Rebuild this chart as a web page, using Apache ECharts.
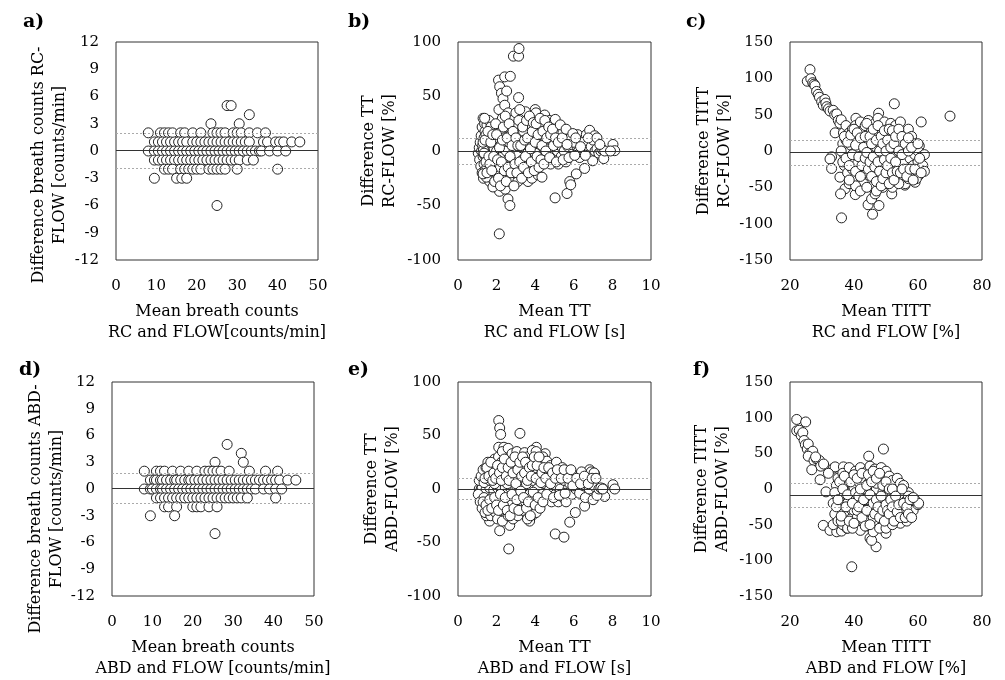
<!DOCTYPE html>
<html>
<head>
<meta charset="utf-8">
<script src="https://cdn.jsdelivr.net/npm/echarts@6/dist/echarts.min.js"></script>
<style>
  html, body { margin: 0; padding: 0; background: #fff; }
  #main { width: 1005px; height: 680px; }
</style>
</head>
<body>
<div id="main"></div>
<script>
// a) breath counts RC-FLOW [mean, diff]
var ptsA = [
  [27.5,5],[28.5,5],[33,4],[23.5,3],[30.5,3],
  [8,2],[11,2],[12,2],[13,2],[14,2],[16,2],[17,2],[19,2],[21,2],[24,2],[25,2],[26,2],[27,2],[29,2],[30,2],[31,2],[33,2],[35,2],[37,2],
  [9.5,1],[10.5,1],[11.5,1],[12.5,1],[13.5,1],[14.5,1],[15.5,1],[16.5,1],[17.5,1],[19,1],[20,1],[21,1],[22,1],[23,1],[24,1],[25,1],[26,1],[27,1],[28,1],[29,1],[30,1],[31,1],[32,1],[33,1],[36.5,1],[37.5,1],[39.5,1],[40.5,1],[41.5,1],[43.5,1],[45.5,1],
  [8,0],[9.5,0],[10.5,0],[11.5,0],[12.5,0],[13.5,0],[14.5,0],[15.5,0],[16.5,0],[17.5,0],[18.5,0],[19.5,0],[20.5,0],[21.5,0],[22.5,0],[23.5,0],[24.5,0],[25.5,0],[26.5,0],[27.5,0],[28.5,0],[29.5,0],[30.5,0],[31.5,0],[32.5,0],[33.5,0],[34.5,0],[35.5,0],[36,0],[38,0],[40,0],[42,0],
  [9.5,-1],[10.5,-1],[11.5,-1],[12.5,-1],[13.5,-1],[14.5,-1],[15.5,-1],[16.5,-1],[17.5,-1],[18.5,-1],[19.5,-1],[20.5,-1],[21.5,-1],[22.5,-1],[23.5,-1],[24.5,-1],[25.5,-1],[26.5,-1],[27.5,-1],[28.5,-1],[29.5,-1],[30.5,-1],[32.5,-1],[34,-1],
  [12,-2],[13,-2],[14,-2],[16,-2],[17,-2],[18,-2],[19,-2],[20,-2],[21,-2],[23,-2],[24,-2],[25,-2],[26,-2],[27,-2],[30,-2],[40,-2],
  [9.5,-3],[15,-3],[16.3,-3],[17.5,-3],[25,-6]
];

// b) TT RC-FLOW
var ptsB = [
  [1.05,-2],[1.1,3],[1.12,-8],[1.15,8],[1.18,-14],[1.2,14],[1.22,0],[1.25,-20],[1.25,22],[1.28,5],[1.3,-5],[1.3,30],[1.32,-25],[1.35,12],[1.35,-12],[1.38,25],[1.4,-18],[1.4,2],[1.4,18],
  [1.45,0],[1.5,-1],[1.5,1],[1.55,0],[1.55,-3],[1.6,2],[1.6,-1],[1.65,0],[1.65,3],[1.7,-2],[1.7,1],[1.75,0],[1.8,2],[1.8,-1],[1.85,0],[1.45,-6],[1.5,6],[1.55,10],[1.6,-10],[1.65,15],[1.7,-15],[1.75,8],[1.8,-8],[1.85,20],[1.9,-20],[1.5,24],[1.6,28],[1.7,22],[1.55,-22],[1.65,-28],[1.75,-25],[1.45,15],[1.9,12],[1.95,-5],[1.95,5],[1.5,-15],[1.85,-12],
  [1.42,2],[1.48,-2],[1.52,3],[1.58,-2],[1.62,0],[1.68,2],[1.72,-1],[1.78,1],[1.82,0],[1.38,0],[1.35,-3],[1.32,1],
  [2.0,-30],[2.05,-22],[2.0,0],[2.05,10],[2.1,25],[2.1,-12],[2.12,38],[2.1,65],[2.16,59],[2.25,53],[2.33,48],[2.42,42],[2.52,55],[2.42,68],[2.71,68.5],[2.15,-37],[2.2,-15],[2.2,5],[2.25,18],[2.3,30],[2.3,-5],[2.35,-25],[2.4,12],[2.45,-35],[2.5,0],[2.5,22],[2.55,-18],[2.6,35],[2.6,-8],[2.65,8],[2.59,-44],[2.69,-50],[2.7,-28],[2.75,15],[2.8,28],[2.8,-12],[2.14,-76],[2.87,87],[3.14,87],[3.16,94],[3.14,49],[1.81,-33],[1.47,-24],[1.3,-21],[1.38,30],
  [2.9,0],[2.9,-20],[2.95,20],[3.0,35],[3.0,-10],[3.05,8],[3.1,-28],[3.1,25],[3.15,-3],[3.2,15],[3.25,-18],[3.3,30],[3.3,3],[3.35,-8],[3.4,18],[3.45,-25],[3.5,36],[3.5,8],[3.55,-14],[3.6,25],[3.63,-28],[3.65,0],[3.7,12],[3.75,-20],[3.8,30],[3.83,-25],[3.85,5],[3.9,-8],[3.95,20],[4.0,38],[4.04,35],[4.05,-12],[4.1,10],[4.15,-22],[4.2,26],[4.25,0],[4.3,15],[4.35,-24],[4.4,-5],[4.45,22],[4.49,33],[4.5,8],[3.2,38],[3.6,-2],[4.0,-2],
  [4.6,-10],[4.65,18],[4.7,2],[4.75,28],[4.8,-12],[4.85,10],[4.9,-3],[5.0,22],[5.04,29],[5.05,-8],[5.1,12],[5.15,0],[5.2,-12],[5.25,18],[5.3,5],[5.35,-5],[5.44,17],[5.5,0],[5.55,10],[5.6,-10],[5.65,-39],[5.03,-43],[5.79,-28],[5.84,-31],[5.7,4],[5.8,14],[5.87,14],[5.9,-3],[6.0,8],[6.13,-21],
  [6.2,15],[6.25,0],[6.3,-6],[6.4,8],[6.5,2],[6.56,-16],[6.65,15],[6.7,5],[6.82,19],[6.9,4],[6.98,-9],[7.0,10],[7.08,14],[7.1,0],[7.2,2],[7.3,-2],[7.4,0],[7.5,1],[7.55,-7],[7.6,0],[8.03,6],[8.12,0.3],[7.9,0],
  [1.3,8],[1.35,-2],[1.4,10],[1.45,-10],[1.5,-20],[1.55,18],[1.6,-5],[1.65,-12],[1.7,8],[1.75,-18],[1.8,15],[1.85,-5],[1.9,-28],[1.95,25],[2.0,15],[2.05,-8],[2.1,-25],[2.15,3],[2.2,-32],[2.25,-10],[2.3,10],[2.35,22],[2.4,-18],[2.45,32],[2.5,-28],[2.55,12],[2.6,-15],[2.65,25],[2.7,-5],[2.75,-20],[2.8,5],[2.85,18],[2.9,-32],[2.95,-12],[3.0,12],[3.05,-20],[3.1,5],[3.15,28],[3.2,-10],[3.25,5],[3.3,-25],[3.35,22],[3.4,-15],[3.45,10],[3.5,-5],[3.55,28],[3.6,12],[3.65,-20],[3.7,32],[3.75,2],[3.8,-10],[3.85,18],[3.9,26],[3.95,-18],[4.0,8],[4.05,25],[4.1,-5],[4.15,15],[4.2,-15],[4.25,30],[4.3,-8],[4.35,5],[4.4,18],[4.45,-12],[4.5,28],[4.55,0],[4.6,12],[4.7,22],[4.75,-6],[4.8,15],[4.9,20],[4.95,5],[5.05,12],[5.1,-10],[5.2,8],[5.3,24],[5.4,12],[5.45,-8],[5.6,20],[5.65,6],[5.75,-6],[5.95,16],[6.05,-4],[6.1,12],[6.35,4],[6.6,-4],[6.75,12],[7.2,12],[7.35,6]
];

// c) TITT RC-FLOW
var ptsC = [
  [25.4,96],[26.25,112],[26.5,99.5],[27.1,94],[27.5,92],[27.8,90],[28.3,82],[28.8,78],[29.2,74],[29.9,68],[30.4,63],[30.9,71],[31.2,66],[31.5,61],[32,58],[32.5,55],[33.5,56],[34,50],[34.6,51],[35.1,42],[35.6,38],[36,43],[34.1,25],[36.7,25],[37.5,35],
  [33,-8],[32.5,-11],[33,-24],[35.6,-36],[37.2,-52],[35.8,-59],[38.5,-45],[40.4,-60],[36.1,-92],[45.8,-87],[44.4,-74],[47.8,-75],[45.5,-66],[46.6,-59],[49.2,-34],[51.8,-59],[55.9,-47],[59.1,-43],[60.1,-34],[61.7,-27],[60.4,7],[58.5,-6],[52.6,65],[47.7,52],[40.6,45],[61,40],[70,48],
  [36.5,10],[37,-5],[37,-20],[37.5,15],[38,0],[38,-30],[38.5,25],[39,-12],[39,8],[39.5,30],[39.5,-25],[40,18],[40,-3],[40,-38],
  [40.5,35],[41,5],[41,-18],[41.5,-30],[41.5,22],[42,40],[42,-8],[42.5,12],[42.5,-42],[43,28],[43,-20],[43.5,0],[43.5,35],[44,-10],[44,-30],[44.5,18],[44.5,42],[45,-5],[45,-40],[45,8],
  [45.5,28],[45.5,-20],[46,-48],[46,0],[46,15],[46.5,38],[46.5,-12],[47,-30],[47,5],[47,25],[47.5,45],[47.5,-6],[48,-40],[48,12],[48.5,30],[48.5,-18],[49,-50],[49,0],[49,20],[49.5,-28],[49.5,40],[50,8],[50,-10],[50,-45],
  [50.5,30],[50.5,-35],[51,15],[51,-2],[51.5,-22],[51.5,38],[52,5],[52,-50],[52.5,22],[52.5,-12],[53,-30],[53,35],[53.5,0],[53.5,-42],[54,18],[54,-20],[54.5,40],[54.5,-8],[55,-35],[55,10],
  [55.5,25],[55.5,-15],[56,-45],[56,-2],[56.5,15],[56.5,-25],[57,30],[57,-38],[57.5,5],[57.5,-10],[58,20],[58,-30],[58.5,-20],[59,10],[59,-5],[59.5,-38],[60,0],[60,-15],[60.5,-25],[61,-8],[61.5,-20],[62,-28],[62,-5],
  [43,-45],[44,12],[46,-25],[48,-2],[50,25],[52,-5],[54,-45],[40.5,-48],[38.5,-40],[42,-55],[47,-55],[44,-50],
  [36,0],[36.5,-15],[37,20],[37.5,-10],[38,12],[38.5,-20],[39,22],[39.5,-5],[40,30],[40.5,8],[40.5,-28],[41,25],[41.5,-8],[42,18],[42,-35],[42.5,-20],[43,5],[43.5,-10],[43.5,20],[44,38],[44,-2],[44.5,-25],[45,20],[45,-15],[45.5,10],[45.5,-35],[46,30],[46,-8],[46.5,-22],[47,15],[47,-42],[47.5,-15],[47.5,35],[48,0],[48,-28],[48.5,20],[48.5,-48],[49,10],[49,-38],[49.5,28],[49.5,-12],[50,0],[50,-30],[50.5,15],[50.5,-20],[51,30],[51,-45],[51.5,5],[51.5,-10],[52,-30],[52,28],[52.5,-40],[52.5,10],[53,-15],[53,20],[53.5,-28],[54,0],[54,30],[54.5,-30],[55,-5],[55,20],[55.5,-25],[56,10],[56.5,-35],[57,0],[57,18],[57.5,-25],[58,5],[58.5,-40],[59,-25],[60,10],[60.5,-10],[61,-30]
];

// d) breath counts ABD-FLOW
var ptsD = [
  [28.5,5],[32,4],[25.5,3],[32.5,3],
  [8,2],[11,2],[12,2],[13,2],[15,2],[17,2],[19,2],[21,2],[23,2],[24,2],[25,2],[26,2],[27,2],[29,2],[34,2],[38,2],[41,2],
  [9.5,1],[10.5,1],[11,1],[12,1],[12.5,1],[13.5,1],[14.5,1],[15.5,1],[16,1],[17,1],[18,1],[19,1],[19.5,1],[20.5,1],[21.5,1],[22.5,1],[23.5,1],[24.5,1],[25.5,1],[26.5,1],[27.5,1],[28.5,1],[29.5,1],[30.5,1],[31.5,1],[32.5,1],[33.5,1],[34.5,1],[35.5,1],[36.5,1],[37.5,1],[38.5,1],[39.5,1],[40.5,1],[41.5,1],[43.5,1],[45.5,1],
  [8,0],[9.5,0],[10,0],[11,0],[12,0],[12.5,0],[13.5,0],[14.5,0],[15.5,0],[16.5,0],[17.5,0],[18.5,0],[19.5,0],[20.5,0],[21.5,0],[22.5,0],[23.5,0],[24.5,0],[25.5,0],[26.5,0],[27.5,0],[28.5,0],[29.5,0],[30.5,0],[31.5,0],[32.5,0],[33.5,0],[34.5,0],[35.5,0],[37.5,0],[39,0],[40.5,0],[42,0],
  [11,-1],[12,-1],[13,-1],[14,-1],[15,-1],[16,-1],[17,-1],[18,-1],[19,-1],[20,-1],[21,-1],[22,-1],[23,-1],[24,-1],[25,-1],[26,-1],[27,-1],[28,-1],[29,-1],[30,-1],[31,-1],[32,-1],[33.5,-1],[40.5,-1],
  [13,-2],[14,-2],[16,-2],[20,-2],[21,-2],[22,-2],[24,-2],[26,-2],
  [9.5,-3],[15.5,-3],[25.5,-5]
];

// e) TT ABD-FLOW
var ptsE = [
  [1.1,0],[1.2,0],[1.3,0],[1.4,0],[1.5,0],[1.6,0],[1.7,0],[1.75,0],[1.8,0],[1.9,0],[2.0,0],[2.1,0],[2.2,0],[2.3,0],[2.4,0],[2.5,0],[2.55,0],[1.25,1],[1.45,-1],[1.65,1],[1.85,-1],[2.05,1],[2.25,-1],[2.45,1],
  [2.11,64],[2.16,57],[2.21,51],[3.21,52],[2.11,39],[2.38,39],[4.06,39],[4.52,33],[5.87,15],[6.65,15],[6.82,18],[7.08,14],[8.03,4],[8.12,0],[7.51,0.3],[7.6,-7],[6.56,-16],[6.08,-22],[5.79,-31],[5.04,-42],[5.49,-45],[2.63,-56],[2.16,-39],[2.68,-34],[3.71,-30],[3.63,-25],[3.89,-24],[1.64,-30],[1.47,-25],
  [1.05,-5],[1.1,8],[1.15,-12],[1.2,12],[1.25,-18],[1.3,18],[1.35,-8],[1.35,6],[1.4,-22],[1.45,20],[1.5,-12],[1.5,10],[1.55,25],[1.6,-18],[1.65,8],[1.7,-25],[1.7,15],[1.75,-8],[1.8,22],[1.85,-15],[1.9,28],[1.9,5],[1.95,-22],[2.0,18],
  [2.05,-28],[2.1,30],[2.15,-10],[2.2,10],[2.2,-20],[2.25,25],[2.3,35],[2.3,-30],[2.35,-5],[2.4,15],[2.45,-18],[2.5,28],[2.55,5],[2.6,-25],[2.6,38],[2.65,-8],[2.7,18],[2.75,-15],[2.8,33],[2.85,-28],[2.9,8],[2.95,-5],[3.0,22],[3.0,-18],
  [3.05,35],[3.1,-25],[3.15,12],[3.2,-8],[3.25,28],[3.3,0],[3.35,-20],[3.4,20],[3.45,34],[3.5,-12],[3.55,5],[3.6,30],[3.6,-28],[3.65,15],[3.7,-5],[3.75,25],[3.8,-18],[3.85,36],[3.9,8],[3.95,-10],[4.0,20],[4.05,35],[4.05,-22],[4.1,0],[4.15,28],[4.2,-12],[4.25,12],[4.3,22],[4.35,-5],[4.4,30],[4.45,-10],[4.5,5],[4.5,18],
  [4.6,26],[4.65,-8],[4.7,12],[4.75,0],[4.8,22],[4.85,-12],[4.9,8],[5.0,18],[5.05,-5],[5.1,25],[5.15,2],[5.2,-12],[5.25,14],[5.3,0],[5.4,20],[5.45,-8],[5.5,8],[5.6,-12],[5.65,16],[5.7,0],[5.8,5],[5.9,-5],[6.0,12],[6.1,0],
  [6.2,8],[6.3,-4],[6.4,16],[6.5,3],[6.6,-8],[6.7,10],[6.8,0],[6.9,16],[7.0,-10],[7.05,15],[7.1,2],[7.2,-6],[7.3,0],[7.4,1],[7.5,0],
  [1.3,-12],[1.4,10],[1.45,-15],[1.5,20],[1.55,-20],[1.6,12],[1.65,-10],[1.7,25],[1.75,-18],[1.8,8],[1.85,15],[1.9,-8],[1.95,10],[2.0,-15],[2.05,22],[2.1,-20],[2.15,15],[2.2,-5],[2.25,8],[2.3,20],[2.35,-15],[2.4,28],[2.45,-8],[2.5,12],[2.55,-20],[2.6,20],[2.65,8],[2.7,-25],[2.75,25],[2.8,-5],[2.85,15],[2.9,-18],[2.95,30],[3.0,5],[3.05,-10],[3.1,18],[3.15,-20],[3.2,25],[3.25,-2],[3.3,12],[3.35,30],[3.4,-8],[3.45,15],[3.5,25],[3.55,-18],[3.6,8],[3.65,-12],[3.7,20],[3.75,-25],[3.8,12],[3.85,22],[3.9,-3],[3.95,30],[4.0,-15],[4.05,10],[4.1,22],[4.15,-8],[4.2,30],[4.25,-18],[4.3,6],[4.35,15],[4.4,-12],[4.45,20],[4.55,10],[4.6,-5],[4.7,20],[4.8,5],[4.9,15],[4.95,-8],[5.05,10],[5.15,18],[5.25,-6],[5.35,10],[5.5,18],[5.55,-4],[5.7,10],[5.85,18],[5.95,3],[6.15,10],[6.35,5],[6.55,12],[6.75,5],[6.95,10],[7.15,10]
];

// f) TITT ABD-FLOW
var ptsF = [
  [22.1,97.5],[24.9,94],[22.1,81.5],[22.9,82.4],[23.5,75],[24,79],[24.4,68],[24.8,62],[25.4,56],[25.7,63],[26.2,50],[26.8,48],[27.1,53],[25.7,46],[27.5,40],[28.3,42],[29.2,40],[29.6,32],[26.8,27],[29.4,13],[31.25,-4],[33.5,29],[34.1,31],[36.7,31],[28,45],[30.5,35],[32,22],
  [44.6,46],[49.2,56],[57,-5],[59.4,-21],[57.5,-30],[30.4,-51],[32.5,-58],[34.6,-60],[36.1,-59],[45,-69],[46.9,-81],[50,-62],[39.3,-109],[45.5,-72],[37.8,-55],[33.5,-50],
  [33.5,-20],[34,-35],[34.5,5],[35,-45],[35,15],[35.5,-10],[36,-28],[36.5,22],[36.5,-50],[37,0],[37,-38],[37.5,10],[38,-20],[38,-55],[38.5,30],
  [39,-5],[39,-42],[39.5,18],[40,-30],[40,2],[40.5,25],[40.5,-15],[41,-50],[41,-40],[41.5,10],[42,-22],[42,30],[42.5,-8],[43,-45],[43,15],
  [43.5,-30],[43.5,0],[44,25],[44,-15],[44.5,-52],[44.5,8],[45,-38],[45,32],[45.5,-5],[45.5,-22],[46,15],[46,-60],[46.5,-10],[46.5,28],[47,-30],[47,0],[47.5,-45],[47.5,20],[48,-18],[48,10],
  [48.5,-35],[48.5,30],[49,-5],[49,-50],[49.5,15],[49.5,-25],[50,-12],[50,25],[50.5,-40],[50.5,2],[51,-20],[51,18],[51.5,-48],[52,-8],[52,12],[52.5,-30],[53,-42],[53,0],
  [53.5,15],[53.5,-20],[54,-35],[54,-5],[54.5,8],[54.5,-48],[55,-25],[55,-12],[55.5,-40],[55.5,5],[56,-30],[56,-18],[56.5,-45],[57,-10],[57.5,-38],[58,-22],[58.5,-30],[59,-15],[60,-22],[60.2,-20],
  [41,-30],[44,-45],[46,-40],[48,-55],[42,-58],[39.5,-55],[36,-45],[50,-55],[52,-50],[47,8],[45,-28],
  [34,-5],[34.5,-25],[35,-15],[35.5,10],[36,-38],[36.5,0],[37,18],[37.5,-25],[38,-8],[38.5,-45],[39,10],[39.5,-20],[40,20],[40,-48],[40.5,-5],[41,15],[41.5,-25],[41.5,-10],[42,0],[42.5,-40],[42.5,22],[43,-15],[43.5,-52],[44,5],[44,-30],[44.5,20],[45,-8],[45,-50],[45.5,10],[46,-20],[46,25],[46.5,-35],[47,-15],[47,15],[47.5,-25],[48,-40],[48,22],[48.5,-10],[49,5],[49,-30],[49.5,-45],[50,10],[50,-22],[50.5,-30],[51,0],[51,-35],[51.5,-15],[52,-25],[52,0],[52.5,-45],[53,-10],[53.5,-32],[54,-22],[54.5,-40],[55,0],[55.5,-20],[56,-40],[56.5,-25],[57,-35],[57.5,-15],[58,-40],[58.5,-12]
];

// bias and limits of agreement [mean, upper, lower]
var biasA = [0.05, 1.9, -1.9];
var biasB = [-0.2, 11.6, -11.9];
var biasC = [-2.3, 15, -19.6];
var biasD = [0.1, 1.8, -1.6];
var biasE = [0, 9.9, -9.9];
var biasF = [-8.7, 7.6, -25];

var labels = ['a)', 'b)', 'c)', 'd)', 'e)', 'f)'];
var xNames = [
  'Mean breath counts\nRC and FLOW[counts/min]',
  'Mean TT\nRC and FLOW [s]',
  'Mean TITT\nRC and FLOW [%]',
  'Mean breath counts\nABD and FLOW [counts/min]',
  'Mean TT\nABD and FLOW [s]',
  'Mean TITT\nABD and FLOW [%]'
];
var yNames = [
  'Difference breath counts RC-\nFLOW [counts/min]',
  'Difference TT\nRC-FLOW [%]',
  'Difference TITT\nRC-FLOW [%]',
  'Difference breath counts ABD-\nFLOW [counts/min]',
  'Difference TT\nABD-FLOW [%]',
  'Difference TITT\nABD-FLOW [%]'
];
var xRanges = [[0, 50, 10], [0, 10, 2], [20, 80, 20], [0, 50, 10], [0, 10, 2], [20, 80, 20]];
var yRanges = [[-12, 12, 3], [-100, 100, 50], [-150, 150, 50], [-12, 12, 3], [-100, 100, 50], [-150, 150, 50]];

var allPts = [ptsA, ptsB, ptsC, ptsD, ptsE, ptsF];
var allBias = [biasA, biasB, biasC, biasD, biasE, biasF];

// 布局 (shift = 纵轴标题向下偏移)
var boxes = [
  {left: 116, top: 42, width: 202, height: 218, gap: 46, shift: 14, lab: [18, 8]},
  {left: 458, top: 42, width: 193, height: 218, gap: 58, shift: 0, lab: [343, 8]},
  {left: 790, top: 42, width: 192, height: 218, gap: 55, shift: 0, lab: [681, 8]},
  {left: 112, top: 382, width: 202, height: 219, gap: 42, shift: 20, lab: [14, 356]},
  {left: 458, top: 382, width: 193, height: 219, gap: 55, shift: 0, lab: [343, 356]},
  {left: 790, top: 382, width: 192, height: 219, gap: 57, shift: 0, lab: [688, 356]}
];

var font = 'DejaVu Serif';
var grids = [], xAxes = [], yAxes = [], series = [], titles = [];

// 刻度用普通连字符
function tickText(v) {
  return String(v);
}

boxes.forEach(function (b, i) {
  grids.push({
    left: b.left, top: b.top, width: b.width, height: b.height,
    show: true, borderColor: '#333', borderWidth: 1, backgroundColor: '#fff'
  });
  titles.push({
    text: labels[i], left: b.lab[0], top: b.lab[1],
    textStyle: {fontFamily: font, fontSize: 19, fontWeight: 'bold', color: '#000'}
  });
  xAxes.push({
    gridIndex: i, type: 'value',
    min: xRanges[i][0], max: xRanges[i][1], interval: xRanges[i][2],
    name: xNames[i], nameLocation: 'middle', nameGap: 41,
    nameTextStyle: {fontFamily: font, fontSize: 16, color: '#000', lineHeight: 21},
    axisLine: {show: false}, axisTick: {show: false}, splitLine: {show: false},
    axisLabel: {fontFamily: font, fontSize: 15, color: '#000', margin: 19, formatter: tickText}
  });
  yAxes.push({
    gridIndex: i, type: 'value',
    min: yRanges[i][0], max: yRanges[i][1], interval: yRanges[i][2],
    name: yNames[i], nameLocation: 'middle', nameGap: b.gap, nameRotate: 90,
    nameTextStyle: {
      fontFamily: font, fontSize: 16, color: '#000', lineHeight: 21,
      padding: [0, b.shift * 2, 0, 0]
    },
    axisLine: {show: false}, axisTick: {show: false}, splitLine: {show: false},
    axisLabel: {fontFamily: font, fontSize: 15, color: '#000', margin: 17, formatter: tickText}
  });
  var bias = allBias[i];
  // 均值线和一致性界限
  series.push({
    type: 'scatter', xAxisIndex: i, yAxisIndex: i, data: [], z: 1, silent: true,
    markLine: {
      silent: true, symbol: 'none', animation: false,
      label: {show: false},
      data: [
        {yAxis: bias[0], lineStyle: {color: '#333', width: 1, type: 'solid'}},
        {yAxis: bias[1], lineStyle: {color: '#aaa', width: 1, type: [2, 2]}},
        {yAxis: bias[2], lineStyle: {color: '#aaa', width: 1, type: [2, 2]}}
      ]
    }
  });
  series.push({
    type: 'scatter', xAxisIndex: i, yAxisIndex: i, z: 3,
    data: allPts[i], symbol: 'circle', symbolSize: 10,
    itemStyle: {color: '#fff', borderColor: '#222', borderWidth: 1, opacity: 1}
  });
});

var myChart = echarts.init(document.getElementById('main'));
myChart.setOption({
  animation: false,
  backgroundColor: '#fff',
  title: titles,
  grid: grids,
  xAxis: xAxes,
  yAxis: yAxes,
  series: series
});
</script>
</body>
</html>
